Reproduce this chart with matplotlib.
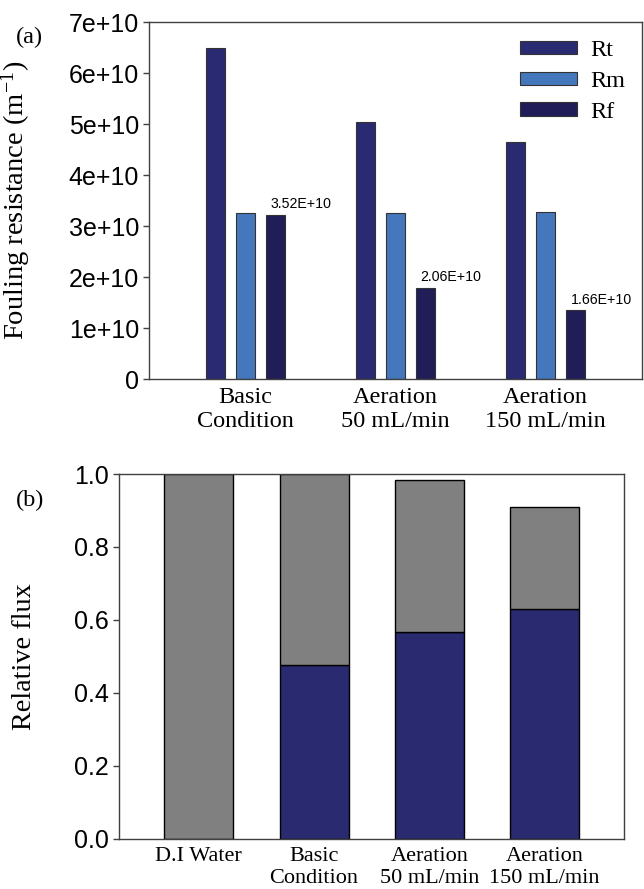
import numpy as np
import matplotlib
matplotlib.use("Agg")
import matplotlib.pyplot as plt

plt.rcParams['mathtext.fontset'] = 'custom'
plt.rcParams['mathtext.rm'] = 'Liberation Serif'
plt.rcParams['mathtext.it'] = 'Liberation Serif:italic'

SERIF = 'Liberation Serif'
SANS = 'Liberation Sans'

# (a) fouling resistance, m^-1
groups_a = ["Basic\nCondition", "Aeration\n50 mL/min", "Aeration\n150 mL/min"]
series_names = ["Rt", "Rm", "Rf"]
rt = [6.50e10, 5.05e10, 4.65e10]
rm = [3.27e10, 3.26e10, 3.29e10]
rf = [3.23e10, 1.79e10, 1.35e10]
rf_labels = ["3.52E+10", "2.06E+10", "1.66E+10"]
yticks_a = [0, 1e10, 2e10, 3e10, 4e10, 5e10, 6e10, 7e10]
ytick_labels_a = ["0", "1e+10", "2e+10", "3e+10", "4e+10", "5e+10", "6e+10", "7e+10"]

# (b) relative flux
groups_b = ["D.I Water", "Basic\nCondition", "Aeration\n50 mL/min", "Aeration\n150 mL/min"]
flux_blue = [0.0, 0.475, 0.566, 0.630]
flux_total = [1.0, 1.0, 0.984, 0.910]
yticks_b = [0.0, 0.2, 0.4, 0.6, 0.8, 1.0]
ytick_labels_b = ["0.0", "0.2", "0.4", "0.6", "0.8", "1.0"]

COLORS_A = ['#2a2a72', '#4477bb', '#201d58']
BLUE_B = '#2a2a70'
GRAY_B = '#808080'
SPINE = '#404040'

fig = plt.figure(figsize=(6.44, 8.89), dpi=100)
ax1 = fig.add_axes([0.2314, 0.5733, 0.7655, 0.4016])
ax2 = fig.add_axes([0.1853, 0.0566, 0.7837, 0.4102])

# ---- panel (a)
x = np.arange(len(groups_a))
step = 0.2
width = 0.123
for i, (vals, c, name) in enumerate(zip([rt, rm, rf], COLORS_A, series_names)):
    ax1.bar(x + (i - 1) * step, vals, width, color=c, edgecolor='#333333',
            linewidth=0.8, label=name)

for xi, v, lab in zip(x, rf, rf_labels):
    ax1.annotate(lab, (xi + step - width / 2, v), xytext=(3, 5),
                 textcoords='offset points', ha='left', va='baseline',
                 fontsize=10.2, family=SANS)

ax1.set_xlim(-0.643, 2.643)
ax1.set_ylim(0, 7e10)
ax1.set_yticks(yticks_a, ytick_labels_a)
ax1.set_xticks(x, groups_a)
ax1.set_ylabel(r"Fouling resistance (m$^{\mathrm{-1}}$)", family=SERIF, fontsize=20.5)
ax1.yaxis.set_label_coords(-0.235, 0.5)

leg = ax1.legend(loc='upper left', bbox_to_anchor=(0.7525, 0.95), frameon=False,
                 prop={'family': SERIF, 'size': 17.5}, handlelength=2.35,
                 handleheight=0.46, handletextpad=0.55, labelspacing=0.4,
                 borderpad=0, borderaxespad=0)

# ---- panel (b)
xb = np.arange(len(groups_b))
ax2.bar(xb, flux_blue, 0.6, color=BLUE_B, edgecolor='black', linewidth=1)
gray_part = [t - b for t, b in zip(flux_total, flux_blue)]
ax2.bar(xb, gray_part, 0.6, bottom=flux_blue, color=GRAY_B, edgecolor='black', linewidth=1)

ax2.set_xlim(-0.69, 3.69)
ax2.set_ylim(0, 1.0)
ax2.set_yticks(yticks_b, ytick_labels_b)
ax2.set_xticks(xb, groups_b)
ax2.set_ylabel("Relative flux", family=SERIF, fontsize=20.3)
ax2.yaxis.set_label_coords(-0.163, 0.5)

for ax, xsize, pad in ((ax1, 17.5, 5.4), (ax2, 16, 6)):
    for s in ax.spines.values():
        s.set_color(SPINE)
        s.set_linewidth(1)
    ax.tick_params(axis='y', direction='out', length=4.3, width=1, color=SPINE,
                   labelsize=18, pad=3)
    ax.tick_params(axis='x', length=0, pad=pad)
    for t in ax.get_yticklabels():
        t.set_family(SANS)
    for t in ax.get_xticklabels():
        t.set_family(SERIF)
        t.set_fontsize(xsize)
        t.set_linespacing(1.2)

fig.text(29 / 644, 1 - 37 / 889, "(a)", family=SERIF, fontsize=17.5, ha='center', va='center')
fig.text(30 / 644, 1 - 500 / 889, "(b)", family=SERIF, fontsize=17.5, ha='center', va='center')

fig.savefig("out.png", dpi=100)
